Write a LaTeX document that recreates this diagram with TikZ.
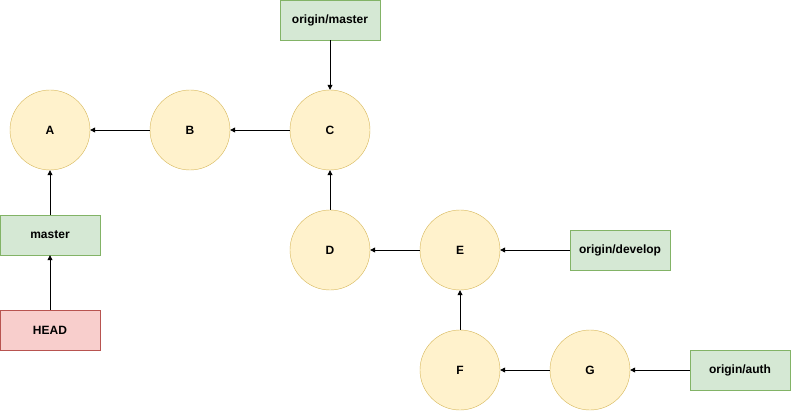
\documentclass[tikz,border=0pt]{standalone}
\usepackage{fontspec}
\setmainfont{Liberation Sans}
\usetikzlibrary{arrows.meta}
\definecolor{cfill}{HTML}{FFF2CC}
\definecolor{cdraw}{HTML}{D6B656}
\definecolor{gfill}{HTML}{D5E8D4}
\definecolor{gdraw}{HTML}{82B366}
\definecolor{rfill}{HTML}{F8CECC}
\definecolor{rdraw}{HTML}{B85450}
\begin{document}
\begin{tikzpicture}[x=1pt,y=-1pt,
  commit/.style={circle,draw=cdraw,fill=cfill,minimum size=80pt,inner sep=0pt,font=\bfseries\fontsize{12}{14}\selectfont},
  ref/.style={rectangle,draw=gdraw,fill=gfill,minimum width=100pt,minimum height=40pt,inner sep=0pt,font=\bfseries\fontsize{12}{14}\selectfont},
  headref/.style={ref,draw=rdraw,fill=rfill},
  arr/.style={-{Triangle[length=5pt,width=5pt]},line width=0.8pt}]
\useasboundingbox (0,0) rectangle (791,411);
\node[commit] (A) at (50,130) {A};
\node[commit] (B) at (190,130) {B};
\node[commit] (C) at (330,130) {C};
\node[commit] (D) at (330,250) {D};
\node[commit] (E) at (460,250) {E};
\node[commit] (F) at (460,370) {F};
\node[commit] (G) at (590,370) {G};
\node[ref] (om) at (330,20) {origin/master};
\node[ref] (master) at (50,235) {master};
\node[headref] (head) at (50,330) {HEAD};
\node[ref] (od) at (620,250) {origin/develop};
\node[ref] (oa) at (740,370) {origin/auth};
\draw[arr] (om) -- (C);
\draw[arr] (C) -- (B);
\draw[arr] (B) -- (A);
\draw[arr] (master) -- (A);
\draw[arr] (head) -- (master);
\draw[arr] (D) -- (C);
\draw[arr] (E) -- (D);
\draw[arr] (od) -- (E);
\draw[arr] (F) -- (E);
\draw[arr] (G) -- (F);
\draw[arr] (oa) -- (G);
\end{tikzpicture}
\end{document}
